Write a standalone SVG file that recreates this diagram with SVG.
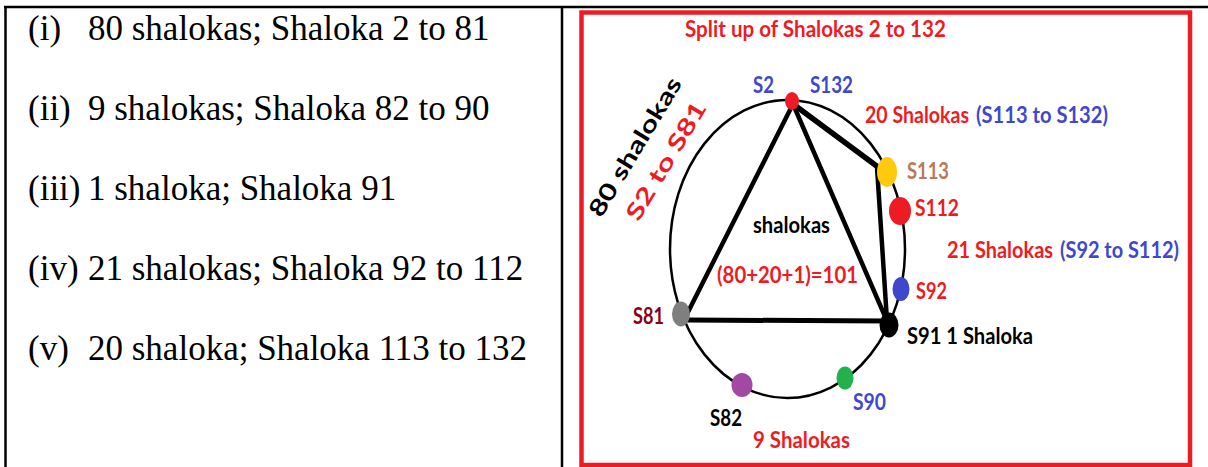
<svg xmlns="http://www.w3.org/2000/svg" width="1208" height="467" viewBox="0 0 1208 467">
<style>
.tbl{stroke:#000;stroke-width:2.5;fill:none}
.lt{font-family:"Liberation Serif","Times New Roman",serif;font-size:35px;fill:#000}
.lb{font-family:Lato,"Open Sans",sans-serif;font-weight:bold;font-size:23px}
.r{fill:#ed1c24}.b{fill:#3f48cc}.k{fill:#000}.br{fill:#b97a57}.dr{fill:#880015}
.ln{stroke:#000;fill:none;stroke-linecap:round;stroke-linejoin:round}
</style>
<rect width="1208" height="467" fill="#fff"/>
<g id="table">
<line class="tbl" x1="4" y1="7" x2="1208" y2="7"/>
<line class="tbl" x1="5.5" y1="7" x2="5.5" y2="467"/>
<line class="tbl" x1="562" y1="7" x2="562" y2="467"/>
</g>
<g id="list">
<text class="lt" x="28" y="40">(i)</text><text class="lt" x="88" y="40">80 shalokas; Shaloka 2 to 81</text>
<text class="lt" x="28" y="120">(ii)</text><text class="lt" x="88" y="120">9 shalokas; Shaloka 82 to 90</text>
<text class="lt" x="28" y="200">(iii)</text><text class="lt" x="88" y="200">1 shaloka; Shaloka 91</text>
<text class="lt" x="28" y="280">(iv)</text><text class="lt" x="88" y="280">21 shalokas; Shaloka 92 to 112</text>
<text class="lt" x="28" y="360">(v)</text><text class="lt" x="88" y="360">20 shaloka; Shaloka 113 to 132</text>
</g>
<g id="frame">
<rect x="581.5" y="12.5" width="608.5" height="452.5" fill="none" stroke="#ed1c24" stroke-width="4.5"/>
<text class="lb r" x="685" y="37" textLength="261" lengthAdjust="spacingAndGlyphs">Split up of Shalokas 2 to 132</text>
</g>
<g id="circle">
<ellipse cx="787.5" cy="249" rx="117.5" ry="149" fill="none" stroke="#000" stroke-width="2.5"/>
</g>
<g id="connectors">
<line class="ln" x1="793" y1="104" x2="687" y2="314" stroke-width="4.5"/>
<line class="ln" x1="793" y1="104" x2="887" y2="321" stroke-width="4.5"/>
<line class="ln" x1="793" y1="104" x2="878" y2="167" stroke-width="5.5"/>
<line class="ln" x1="877" y1="167" x2="887" y2="321" stroke-width="4.5"/>
<line class="ln" x1="688" y1="320" x2="887" y2="321" stroke-width="5"/>
</g>
<g id="rotated">
<text class="lb k" font-size="31" text-anchor="middle" textLength="158" lengthAdjust="spacingAndGlyphs" transform="translate(642,151) rotate(-59)">80 shalokas</text>
<text class="lb r" font-size="31" text-anchor="middle" textLength="134" lengthAdjust="spacingAndGlyphs" transform="translate(673,165) rotate(-59)">S2 to S81</text>
</g>
<g id="center-label">
<text class="lb k" x="753" y="233" textLength="77" lengthAdjust="spacingAndGlyphs">shalokas</text>
<text class="lb r" x="717" y="283" textLength="141" lengthAdjust="spacingAndGlyphs">(80+20+1)=101</text>
</g>
<g id="node-s2">
<ellipse cx="792" cy="101" rx="7" ry="9" fill="#ed1c24"/>
<text class="lb b" x="753" y="93" textLength="21" lengthAdjust="spacingAndGlyphs">S2</text>
<text class="lb b" x="810" y="93" textLength="43" lengthAdjust="spacingAndGlyphs">S132</text>
</g>
<g id="node-20">
<text class="lb r" x="865" y="123" textLength="104" lengthAdjust="spacingAndGlyphs">20 Shalokas</text>
<text class="lb b" x="976" y="123" textLength="132" lengthAdjust="spacingAndGlyphs">(S113 to S132)</text>
</g>
<g id="node-s113">
<ellipse cx="887" cy="172" rx="10" ry="15" fill="#ffc90e"/>
<text class="lb br" x="907" y="179" textLength="42" lengthAdjust="spacingAndGlyphs">S113</text>
</g>
<g id="node-s112">
<ellipse cx="900" cy="211" rx="11" ry="14" fill="#ed1c24"/>
<text class="lb r" x="915" y="216" textLength="44" lengthAdjust="spacingAndGlyphs">S112</text>
</g>
<g id="node-21">
<text class="lb r" x="947" y="258" textLength="106" lengthAdjust="spacingAndGlyphs">21 Shalokas</text>
<text class="lb b" x="1060" y="258" textLength="119" lengthAdjust="spacingAndGlyphs">(S92 to S112)</text>
</g>
<g id="node-s92">
<ellipse cx="901" cy="289" rx="8.5" ry="12" fill="#3f48cc"/>
<text class="lb r" x="916" y="299" textLength="31" lengthAdjust="spacingAndGlyphs">S92</text>
</g>
<g id="node-s91">
<ellipse cx="889" cy="325" rx="9.5" ry="12.5" fill="#000"/>
<text class="lb k" x="907" y="344" textLength="126" lengthAdjust="spacingAndGlyphs">S91 1 Shaloka</text>
</g>
<g id="node-s90">
<ellipse cx="845" cy="378" rx="8.5" ry="11.5" fill="#22b14c"/>
<text class="lb b" x="853" y="410" textLength="33" lengthAdjust="spacingAndGlyphs">S90</text>
</g>
<g id="node-s82">
<ellipse cx="742" cy="385" rx="10.5" ry="12" fill="#a349a4"/>
<text class="lb k" x="710" y="426" textLength="32" lengthAdjust="spacingAndGlyphs">S82</text>
<text class="lb r" x="753" y="448" textLength="97" lengthAdjust="spacingAndGlyphs">9 Shalokas</text>
</g>
<g id="node-s81">
<ellipse cx="681" cy="314" rx="9" ry="12.5" fill="#7f7f7f"/>
<text class="lb dr" x="633" y="324" textLength="31" lengthAdjust="spacingAndGlyphs">S81</text>
</g>
</svg>
